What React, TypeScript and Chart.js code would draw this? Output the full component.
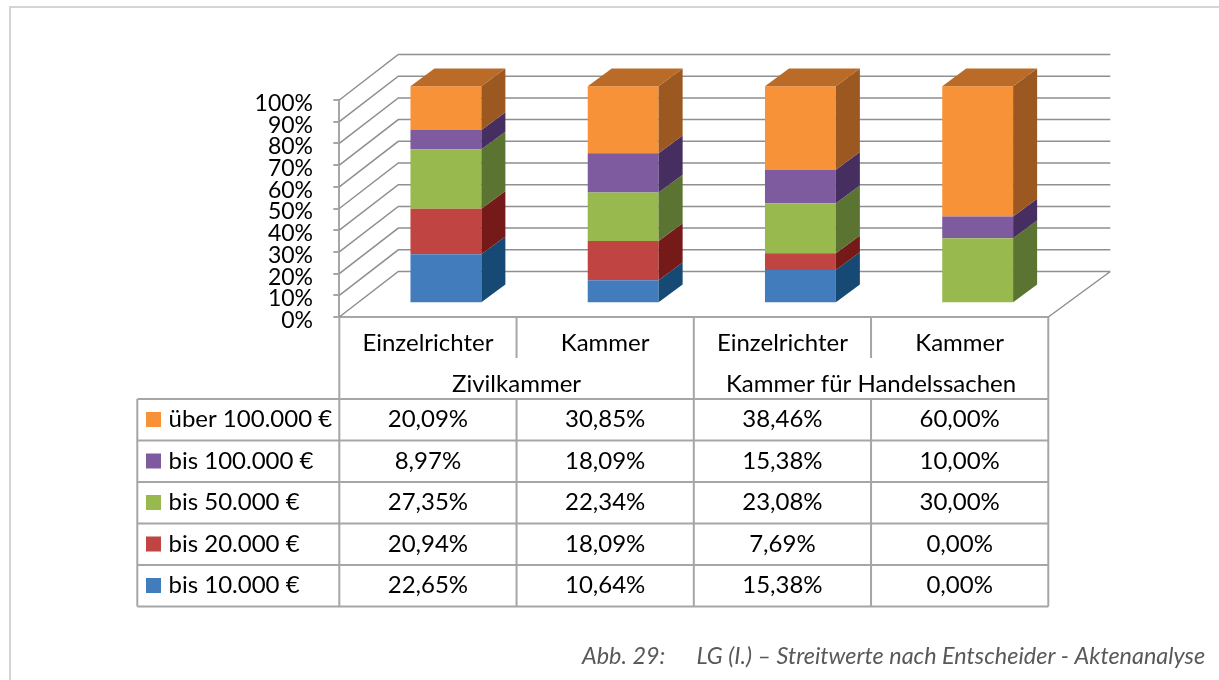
import React, { useEffect, useRef } from "react";
import { Chart, registerables } from "chart.js";

Chart.register(...registerables);

const categories = ["Einzelrichter", "Kammer", "Einzelrichter", "Kammer"];
const groups = ["Zivilkammer", "Kammer für Handelssachen"];
const bis10 = [22.65, 10.64, 15.38, 0];
const bis20 = [20.94, 18.09, 7.69, 0];
const bis50 = [27.35, 22.34, 23.08, 30];
const bis100 = [8.97, 18.09, 15.38, 10];
const ueber100 = [20.09, 30.85, 38.46, 60];
const seriesNames = ["bis 10.000 €", "bis 20.000 €", "bis 50.000 €", "bis 100.000 €", "über 100.000 €"];
const seriesValues = [bis10, bis20, bis50, bis100, ueber100];
const frontColors = ["#437cbd", "#c04441", "#97b94e", "#7d5b9e", "#f79238"];
const sideColors = ["#164a75", "#751a18", "#5b7431", "#472e61", "#9b5821"];
const topColor = "#b96b27";
const captionLabel = "Abb. 29:";
const captionText = "LG (I.) – Streitwerte nach Entscheider - Aktenanalyse";

const FONT = "Lato, Carlito, Calibri, sans-serif";
const LINE = "#a6a6a6";
const GRID = "#8f8f8f";

const fmt = (v: number) => v.toFixed(2).replace(".", ",") + "%";

const threeD = {
  id: "threeD",
  beforeDatasetsDraw(chart: any) {
    const { ctx, scales } = chart;
    const { x, y } = scales;
    const dx = 59;
    const dy = 45.5;
    ctx.save();
    ctx.strokeStyle = GRID;
    ctx.lineWidth = 1.5;
    ctx.beginPath();
    for (let v = 0; v <= 100; v += 10) {
      const p = y.getPixelForValue(v);
      ctx.moveTo(x.left, p);
      ctx.lineTo(x.left + dx, p - dy);
      ctx.lineTo(x.right + 62, p - dy);
    }
    const p0 = y.getPixelForValue(0);
    ctx.moveTo(x.right, p0);
    ctx.lineTo(x.right + 62, p0 - dy);
    ctx.stroke();
    ctx.restore();

    ctx.save();
    ctx.translate(18, -13.7);
  },
  afterDatasetsDraw(chart: any) {
    const { ctx } = chart;
    const depthX = 24;
    const depthY = 17.7;
    seriesValues.forEach((_, di) => {
      chart.getDatasetMeta(di).data.forEach((bar: any) => {
        const { x, y, base, width } = bar.getProps(["x", "y", "base", "width"], true);
        if (Math.abs(base - y) < 0.5) return;
        const r = x + width / 2;
        const l = x - width / 2;
        ctx.fillStyle = sideColors[di];
        ctx.beginPath();
        ctx.moveTo(r, y);
        ctx.lineTo(r + depthX, y - depthY);
        ctx.lineTo(r + depthX, base - depthY);
        ctx.lineTo(r, base);
        ctx.closePath();
        ctx.fill();
        if (di === seriesValues.length - 1) {
          ctx.fillStyle = topColor;
          ctx.beginPath();
          ctx.moveTo(l, y);
          ctx.lineTo(l + depthX, y - depthY);
          ctx.lineTo(r + depthX, y - depthY);
          ctx.lineTo(r, y);
          ctx.closePath();
          ctx.fill();
        }
      });
    });
    ctx.restore();
  },
  afterDraw(chart: any) {
    const { ctx, scales } = chart;
    const { x, y } = scales;
    const col = (x.right - x.left) / categories.length;
    const left = x.left;
    const floor = y.getPixelForValue(0);
    const rowTop = 399;
    const rowH = 41.5;
    const labelLeft = 137.3;
    const n = seriesNames.length;
    const bottom = rowTop + rowH * n;

    ctx.save();
    // page frame
    ctx.fillStyle = "#d4d4d4";
    ctx.fillRect(9, 6, 1210, 2);
    ctx.fillRect(9, 6, 2, 674);

    ctx.strokeStyle = LINE;
    ctx.lineWidth = 2;
    ctx.beginPath();
    // table rows
    for (let i = 0; i <= n; i++) {
      ctx.moveTo(labelLeft, rowTop + rowH * i);
      ctx.lineTo(x.right, rowTop + rowH * i);
    }
    ctx.moveTo(labelLeft, rowTop);
    ctx.lineTo(labelLeft, bottom);
    // table columns
    for (let i = 0; i <= categories.length; i++) {
      const cx = left + col * i;
      ctx.moveTo(cx, rowTop);
      ctx.lineTo(cx, bottom);
      ctx.moveTo(cx, floor);
      ctx.lineTo(cx, floor + 41);
    }
    // group separators
    for (let i = 0; i <= groups.length; i++) {
      const cx = left + col * 2 * i;
      ctx.moveTo(cx, floor + 41);
      ctx.lineTo(cx, rowTop);
    }
    ctx.stroke();

    // value-axis labels, from the library's own ticks
    ctx.fillStyle = "#000";
    ctx.font = `23px ${FONT}`;
    ctx.textBaseline = "middle";
    ctx.textAlign = "right";
    y.ticks.forEach((t: any) => {
      ctx.fillText(`${t.value}%`, 313, y.getPixelForValue(t.value) + 3.5);
    });

    ctx.font = `24px ${FONT}`;
    ctx.textAlign = "center";
    groups.forEach((g, i) => {
      ctx.fillText(g, left + col * (2 * i + 1), 384);
    });

    seriesNames.forEach((_, k) => {
      const si = n - 1 - k;
      const cy = rowTop + rowH * k + 20.5;
      ctx.fillStyle = frontColors[si];
      ctx.fillRect(146, cy - 7.5, 15, 15);
      ctx.fillStyle = "#000";
      ctx.textAlign = "left";
      ctx.fillText(seriesNames[si], 168.5, cy);
      ctx.textAlign = "center";
      seriesValues[si].forEach((v, c) => {
        ctx.fillText(fmt(v), x.getPixelForValue(c), cy);
      });
    });

    ctx.fillStyle = "#595959";
    ctx.font = `italic 23.4px ${FONT}`;
    ctx.textAlign = "left";
    ctx.fillText(captionLabel, 582, 656);
    ctx.fillText(captionText, 696.5, 656);
    ctx.restore();
  },
};

export default function App() {
  const ref = useRef<HTMLCanvasElement | null>(null);

  useEffect(() => {
    document.body.style.margin = "0";
    document.body.style.background = "#fff";
    const chart = new Chart(ref.current!, {
      type: "bar",
      data: {
        labels: categories,
        datasets: seriesNames.map((name, i) => ({
          label: name,
          data: seriesValues[i],
          backgroundColor: frontColors[i],
          borderWidth: 0,
          categoryPercentage: 0.4,
          barPercentage: 1,
          clip: false as any,
        })),
      },
      options: {
        responsive: false,
        animation: false,
        layout: { padding: { left: 239.3, top: 100, right: 170.7, bottom: 322 } },
        plugins: { legend: { display: false }, tooltip: { enabled: false }, title: { display: false } },
        scales: {
          x: {
            stacked: true,
            afterFit: (s: any) => { s.height = 41; },
            grid: { display: false, drawTicks: false },
            border: { display: true, color: LINE, width: 2 },
            ticks: { color: "#000", font: { family: FONT, size: 24 }, padding: 12, maxRotation: 0, autoSkip: false },
          },
          y: {
            stacked: true,
            min: 0,
            max: 100,
            afterFit: (s: any) => { s.width = 100; },
            grid: { drawOnChartArea: false, color: LINE, lineWidth: 2, tickLength: 6, tickWidth: 2, tickColor: LINE },
            border: { display: true, color: LINE, width: 2 },
            ticks: {
              stepSize: 10,
              autoSkip: false,
              color: "rgba(0,0,0,0)",
              padding: 13,
              font: { family: FONT, size: 1 },
            },
          },
        },
      },
      plugins: [threeD],
    });
    return () => chart.destroy();
  }, []);

  return <canvas ref={ref} width={1219} height={680} style={{ display: "block" }} />;
}
